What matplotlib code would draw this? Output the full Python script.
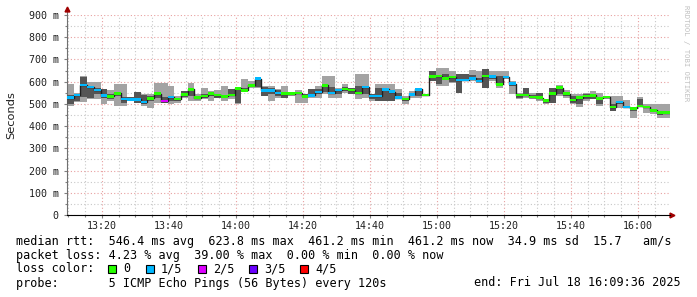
import datetime
import matplotlib
matplotlib.use('Agg')
import matplotlib.pyplot as plt
import matplotlib.dates as mdates
import matplotlib.ticker as mtick
from matplotlib.patches import Rectangle
import numpy as np

start = datetime.datetime(2025, 7, 18, 13, 9, 36)
step_s = 120

# per 2-minute step: median rtt (ms), smoke bounds and lost pings out of 5
median = [528, 540, 585, 576, 562, 537, 534, 547, 523, 520,
          520, 508, 525, 546, 513, 531, 523, 543, 565, 528,
          535, 546, 540, 534, 540, 570, 561, 583, 614, 561,
          561, 550, 546, 546, 550, 534, 538, 553, 583, 550,
          562, 568, 562, 550, 576, 535, 535, 565, 555, 528,
          523, 543, 565, 540, 624, 626, 615, 621, 608, 608,
          615, 603, 626, 623, 588, 621, 591, 541, 540, 531,
          528, 516, 546, 573, 546, 517, 528, 535, 538, 525,
          532, 486, 508, 487, 480, 490, 487, 471, 461, 461]
ping_min = [490, 510, 510, 520, 520, 501, 513, 490, 490, 513,
            505, 490, 483, 505, 505, 498, 505, 528, 513, 513,
            520, 513, 528, 513, 520, 498, 558, 573, 573, 535,
            513, 528, 528, 535, 505, 505, 528, 528, 543, 528,
            528, 550, 543, 520, 528, 513, 513, 513, 513, 520,
            501, 528, 528, 538, 603, 580, 580, 595, 550, 603,
            603, 595, 573, 603, 570, 611, 543, 520, 528, 520,
            513, 501, 505, 535, 528, 501, 486, 513, 520, 490,
            520, 468, 483, 483, 438, 490, 460, 456, 438, 438]
ping_lo = [500, 515, 530, 528, 543, 528, 520, 535, 505, 513,
           505, 500, 513, 528, 505, 513, 513, 530, 535, 520,
           528, 535, 528, 528, 535, 505, 561, 576, 575, 535,
           546, 535, 528, 540, 543, 528, 535, 543, 555, 543,
           546, 558, 546, 543, 546, 520, 513, 513, 513, 520,
           513, 535, 535, 538, 603, 588, 611, 600, 550, 606,
           608, 600, 573, 611, 585, 615, 580, 528, 535, 528,
           520, 505, 505, 546, 535, 505, 498, 520, 520, 498,
           525, 468, 500, 483, 470, 490, 483, 465, 450, 453]
ping_hi = [540, 542, 620, 573, 573, 565, 546, 550, 531, 531,
           555, 540, 535, 546, 531, 535, 528, 558, 565, 535,
           546, 550, 546, 538, 565, 573, 573, 591, 618, 576,
           573, 561, 550, 553, 555, 543, 565, 568, 590, 576,
           568, 575, 570, 580, 580, 546, 573, 565, 561, 550,
           528, 546, 568, 542, 648, 626, 633, 626, 633, 633,
           630, 615, 656, 626, 626, 626, 600, 546, 570, 540,
           547, 516, 573, 573, 550, 535, 535, 543, 546, 531,
           533, 498, 513, 490, 483, 520, 490, 478, 465, 465]
ping_max = [588, 548, 625, 600, 600, 565, 561, 588, 588, 531,
            555, 545, 543, 594, 594, 580, 535, 558, 595, 543,
            573, 558, 561, 580, 565, 575, 611, 603, 620, 580,
            580, 565, 580, 555, 561, 543, 565, 580, 626, 626,
            573, 588, 573, 633, 636, 546, 588, 588, 588, 565,
            535, 558, 573, 543, 648, 663, 663, 648, 633, 633,
            651, 648, 656, 648, 648, 648, 603, 550, 573, 550,
            547, 520, 573, 585, 561, 546, 543, 550, 558, 550,
            535, 535, 535, 516, 483, 531, 498, 501, 501, 501]
loss = [1, 1, 1, 1, 1, 1, 0, 0, 1, 1,
        1, 1, 0, 0, 2, 1, 0, 0, 0, 0,
        0, 0, 0, 0, 0, 0, 0, 0, 1, 1,
        1, 1, 0, 0, 0, 0, 1, 1, 0, 1,
        1, 0, 0, 0, 1, 1, 1, 1, 1, 1,
        0, 1, 1, 0, 0, 0, 0, 0, 1, 1,
        1, 1, 0, 1, 0, 1, 1, 0, 0, 0,
        0, 0, 0, 0, 0, 0, 0, 0, 0, 0,
        0, 0, 1, 1, 0, 0, 0, 0, 0, 0]

loss_colors = ['#26ff00', '#00b8ff', '#dd00ff', '#6a00ff', '#ff0000']
loss_labels = ['0', '1/5', '2/5', '3/5', '4/5']

mono = 'DejaVu Sans Mono'
n = len(median)
edges = mdates.date2num([start + datetime.timedelta(seconds=step_s * i) for i in range(n + 1)])
step_d = step_s / 86400.0


def ext(a):
    return np.append(a, a[-1])


fig = plt.figure(figsize=(6.97, 2.97), dpi=100)
ax = fig.add_axes([67 / 697, 82 / 297, 603 / 697, 200 / 297])

# smoke
ax.fill_between(edges, ext(ping_min), ext(ping_max), step='post', color='#a3a3a3', lw=0, zorder=2)
ax.fill_between(edges, ext(ping_lo), ext(ping_hi), step='post', color='#555555', lw=0, zorder=3)
ax.step(edges, ext(median), where='post', color='#202020', lw=1, zorder=4)
ax.bar(edges[:-1], [11] * n, bottom=np.array(median) - 5.5, width=step_d, align='edge',
       color=[loss_colors[l] for l in loss], lw=0, zorder=5)

ax.set_xlim(edges[0], edges[-1])
ax.set_ylim(0, 900)

ax.xaxis.set_major_locator(mdates.MinuteLocator(byminute=[0, 20, 40]))
ax.xaxis.set_minor_locator(mdates.MinuteLocator(byminute=range(0, 60, 5)))
ax.xaxis.set_major_formatter(mdates.DateFormatter('%H:%M'))
ax.yaxis.set_major_locator(mtick.MultipleLocator(100))
ax.yaxis.set_minor_locator(mtick.MultipleLocator(50))
ax.yaxis.set_major_formatter(mtick.FuncFormatter(lambda v, _: '0' if v == 0 else '%d m' % v))

ax.grid(which='major', color='#e8a0a0', ls=(0, (1, 2)), lw=0.8, zorder=1)
ax.grid(which='minor', color='#c8c8c8', ls=(0, (1, 2)), lw=0.8, zorder=0)
ax.tick_params(which='both', direction='out', length=2, width=0.8, color='#808080',
               labelsize=7.2, labelcolor='#202020', pad=4)
ax.tick_params(axis='x', pad=2.5)
ax.tick_params(which='minor', length=1.5)
for lab in ax.get_xticklabels() + ax.get_yticklabels():
    lab.set_family(mono)

for s in ['top', 'right']:
    ax.spines[s].set_visible(False)
ax.spines['left'].set_color('#707070')
ax.spines['bottom'].set_color('#000000')
ax.plot([0, 0], [1, 1.02], transform=ax.transAxes, color='#707070', lw=0.8, clip_on=False)
ax.plot([1, 1.003], [0, 0], transform=ax.transAxes, color='#000000', lw=0.8, clip_on=False)
ax.plot([0], [1.028], marker='^', ms=3.5, color='#a00000', transform=ax.transAxes, clip_on=False)
ax.plot([1.004], [0], marker='>', ms=3.5, color='#a00000', transform=ax.transAxes, clip_on=False)

fig.text(11 / 697, 1 - 115 / 297, 'Seconds', rotation=90, ha='center', va='center',
         fontsize=8.2, color='#202020')
fig.text(686 / 697, 1 - 5 / 297, 'RRDTOOL / TOBI OETIKER', rotation=-90, ha='center', va='top',
         fontsize=5.2, family=mono, color='#c0c0c0')

# legend block
fs = 8.5
rows = [241, 255, 269, 283]
fig.text(16 / 697, 1 - rows[0] / 297,
         'median rtt:  546.4 ms avg  623.8 ms max  461.2 ms min  461.2 ms now  34.9 ms sd  15.7   am/s',
         family=mono, fontsize=fs, va='center', color='#000000')
fig.text(16 / 697, 1 - rows[1] / 297,
         'packet loss: 4.23 % avg  39.00 % max  0.00 % min  0.00 % now',
         family=mono, fontsize=fs, va='center', color='#000000')
fig.text(16 / 697, 1 - rows[2] / 297, 'loss color:', family=mono, fontsize=fs, va='center')
sq_x = [108, 146, 198, 249, 300]
for x, c, lab in zip(sq_x, loss_colors, loss_labels):
    fig.patches.append(Rectangle((x / 697, 1 - (rows[2] + 4) / 297), 8 / 697, 8 / 297,
                                 facecolor=c, edgecolor='#000000', lw=0.8,
                                 transform=fig.transFigure, figure=fig))
    fig.text((x + 15) / 697, 1 - rows[2] / 297, lab, family=mono, fontsize=fs, va='center')
fig.text(16 / 697, 1 - rows[3] / 297, 'probe:       5 ICMP Echo Pings (56 Bytes) every 120s',
         family=mono, fontsize=fs, va='center')
fig.text(681 / 697, 1 - rows[3] / 297, 'end: Fri Jul 18 16:09:36 2025',
         family=mono, fontsize=fs, va='center', ha='right')

fig.savefig('out.png', dpi=100, facecolor='white')
